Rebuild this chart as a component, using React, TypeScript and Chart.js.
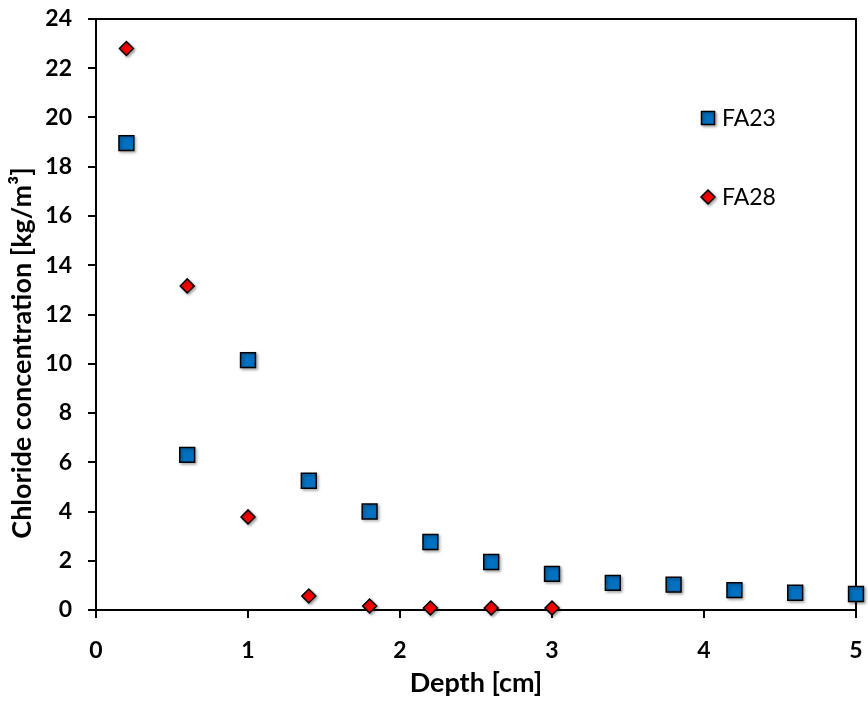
import React, { useEffect, useRef } from "react";
import { Chart, registerables } from "chart.js";

Chart.register(...registerables);

const fa23Depth = [0.2, 0.6, 1.0, 1.4, 1.8, 2.2, 2.6, 3.0, 3.4, 3.8, 4.2, 4.6, 5.0];
const fa23Values = [18.96, 6.3, 10.15, 5.25, 4.0, 2.76, 1.95, 1.47, 1.1, 1.03, 0.81, 0.7, 0.65];
const fa28Depth = [0.2, 0.6, 1.0, 1.4, 1.8, 2.2, 2.6, 3.0];
const fa28Values = [22.8, 13.16, 3.78, 0.57, 0.16, 0.08, 0.08, 0.08];

const seriesNames = ["FA23", "FA28"];
const xTitle = "Depth [cm]";
const yTitle = "Chloride concentration [kg/m³]";

const BLUE = "#0070C0";
const RED = "#FF0000";
const FONT = "Lato, 'Open Sans', sans-serif";

export default function App() {
  const ref = useRef<HTMLCanvasElement | null>(null);

  useEffect(() => {
    document.body.style.margin = "0";
    const canvas = ref.current!;
    const framePlugin = {
      id: "frame",
      beforeDatasetsDraw(chart: any) {
        const { ctx, chartArea: a } = chart;
        ctx.save();
        ctx.strokeStyle = "#000";
        ctx.lineWidth = 2;
        ctx.beginPath();
        ctx.moveTo(a.left, a.top);
        ctx.lineTo(a.right, a.top);
        ctx.lineTo(a.right, a.bottom);
        ctx.stroke();
        ctx.restore();
        ctx.save();
        ctx.shadowColor = "rgba(0,0,0,0.35)";
        ctx.shadowBlur = 3;
        ctx.shadowOffsetX = 1.5;
        ctx.shadowOffsetY = 1.5;
      },
      afterDatasetsDraw(chart: any) {
        const { ctx, chartArea: a } = chart;
        ctx.restore();
        // axis titles
        ctx.save();
        ctx.fillStyle = "#000";
        ctx.font = `bold 27px ${FONT}`;
        ctx.textAlign = "center";
        ctx.textBaseline = "middle";
        ctx.fillText(xTitle, (a.left + a.right) / 2, chart.height - 18);
        ctx.translate(22, 353);
        ctx.rotate(-Math.PI / 2);
        ctx.fillText(yTitle, 0, 0);
        ctx.restore();
        // legend
        ctx.save();
        const lx = 708;
        const ly1 = 118;
        const ly2 = 197;
        ctx.shadowColor = "rgba(0,0,0,0.35)";
        ctx.shadowBlur = 3;
        ctx.shadowOffsetX = 1.5;
        ctx.shadowOffsetY = 1.5;
        ctx.lineWidth = 1.5;
        ctx.strokeStyle = "#000";
        ctx.fillStyle = BLUE;
        ctx.beginPath();
        ctx.rect(lx - 6.5, ly1 - 6.5, 13, 13);
        ctx.fill();
        ctx.stroke();
        ctx.fillStyle = RED;
        ctx.beginPath();
        ctx.moveTo(lx - 7, ly2);
        ctx.lineTo(lx, ly2 - 7);
        ctx.lineTo(lx + 7, ly2);
        ctx.lineTo(lx, ly2 + 7);
        ctx.closePath();
        ctx.fill();
        ctx.stroke();
        ctx.shadowColor = "transparent";
        ctx.fillStyle = "#000";
        ctx.font = `23px ${FONT}`;
        ctx.textAlign = "left";
        ctx.textBaseline = "middle";
        ctx.fillText(seriesNames[0], lx + 14, ly1 + 1);
        ctx.fillText(seriesNames[1], lx + 14, ly2 + 1);
        ctx.restore();
      },
    };

    const chart = new Chart(canvas, {
      type: "scatter",
      data: {
        datasets: [
          {
            label: seriesNames[0],
            data: fa23Depth.map((x, i) => ({ x, y: fa23Values[i] })),
            pointStyle: "rect",
            pointRadius: 10.5,
            backgroundColor: BLUE,
            borderColor: "#000",
            borderWidth: 1.5,
            clip: false as any,
          },
          {
            label: seriesNames[1],
            data: fa28Depth.map((x, i) => ({ x, y: fa28Values[i] })),
            pointStyle: "rectRot",
            pointRadius: 7,
            backgroundColor: RED,
            borderColor: "#000",
            borderWidth: 1.5,
            clip: false as any,
          },
        ],
      },
      options: {
        animation: false,
        responsive: false,
        layout: { padding: 0 },
        plugins: { legend: { display: false }, tooltip: { enabled: false } },
        scales: {
          x: {
            type: "linear",
            min: 0,
            max: 5,
            ticks: { stepSize: 1, color: "#000", font: { family: FONT, size: 23, weight: "bold" }, padding: 19 },
            grid: { drawOnChartArea: false, drawTicks: true, tickLength: 8, color: "#000", lineWidth: 2 },
            border: { display: true, color: "#000", width: 2 },
            afterFit: (s: any) => {
              s.height = 91;
              s.paddingLeft = 0;
              s.paddingRight = 11;
            },
          },
          y: {
            type: "linear",
            min: 0,
            max: 24,
            ticks: { stepSize: 2, color: "#000", font: { family: FONT, size: 23, weight: "bold" }, padding: 16 },
            grid: { drawOnChartArea: false, drawTicks: true, tickLength: 8, color: "#000", lineWidth: 2 },
            border: { display: true, color: "#000", width: 2 },
            afterFit: (s: any) => {
              s.width = 96;
              s.paddingTop = 19;
              s.paddingBottom = 0;
            },
          },
        },
      },
      plugins: [framePlugin],
    });
    return () => chart.destroy();
  }, []);

  return (
    <div style={{ position: "relative", width: 868, height: 701 }}>
      <canvas ref={ref} width={868} height={701} style={{ display: "block" }} />
    </div>
  );
}
